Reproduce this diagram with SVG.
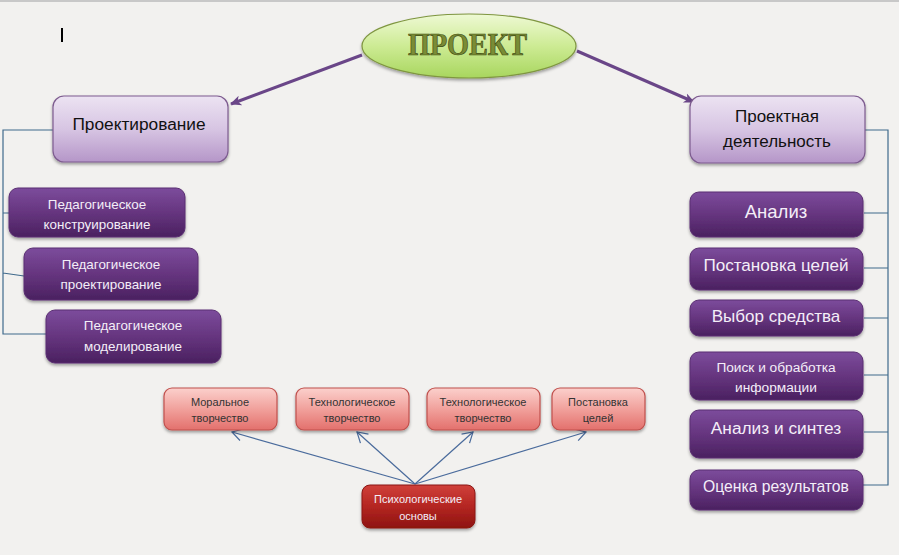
<svg xmlns="http://www.w3.org/2000/svg" width="899" height="555" viewBox="0 0 899 555">
<defs>
<linearGradient id="gLav" x1="0" y1="0" x2="0" y2="1"><stop offset="0" stop-color="#ece3f2"/><stop offset="0.5" stop-color="#d7c5e3"/><stop offset="1" stop-color="#b596c8"/></linearGradient>
<linearGradient id="gPur" x1="0" y1="0" x2="0" y2="1"><stop offset="0" stop-color="#7c4c9c"/><stop offset="0.5" stop-color="#66357f"/><stop offset="1" stop-color="#4a2160"/></linearGradient>
<linearGradient id="gRed" x1="0" y1="0" x2="0" y2="1"><stop offset="0" stop-color="#fbd0cc"/><stop offset="0.5" stop-color="#f1a19c"/><stop offset="1" stop-color="#e3706c"/></linearGradient>
<linearGradient id="gDRed" x1="0" y1="0" x2="0" y2="1"><stop offset="0" stop-color="#d0403a"/><stop offset="0.5" stop-color="#b42622"/><stop offset="1" stop-color="#8e1410"/></linearGradient>
<linearGradient id="gGrn" x1="0" y1="0" x2="0" y2="1"><stop offset="0" stop-color="#eef9d4"/><stop offset="0.5" stop-color="#cdeb94"/><stop offset="1" stop-color="#a8d65e"/></linearGradient>
<filter id="sh" x="-10%" y="-10%" width="120%" height="130%"><feDropShadow dx="0" dy="2" stdDeviation="1.5" flood-color="#000" flood-opacity="0.35"/></filter>
<marker id="aPur" markerWidth="12" markerHeight="12" refX="10" refY="6" orient="auto" markerUnits="userSpaceOnUse"><path d="M0,1 L11,6 L0,11 L3,6 Z" fill="#6a4688"/></marker>
<marker id="aBlue" markerWidth="14" markerHeight="14" refX="12" refY="7" orient="auto" markerUnits="userSpaceOnUse"><path d="M2,1 L12,7 L2,13" fill="none" stroke="#4a6b9c" stroke-width="1.2"/></marker>
<style>
.lav{fill:url(#gLav);stroke:#7d5b8f;stroke-width:1.2;filter:url(#sh)}
.pur{fill:url(#gPur);stroke:#5a2e72;stroke-width:1;filter:url(#sh)}
.red{fill:url(#gRed);stroke:#c0504d;stroke-width:1.2;filter:url(#sh)}
.dred{fill:url(#gDRed);stroke:#8a1612;stroke-width:1;filter:url(#sh)}
.tb{font-family:"Liberation Sans",Arial,sans-serif;fill:#111;text-anchor:middle}
.tw{font-family:"Liberation Sans",Arial,sans-serif;fill:#f4eef8;text-anchor:middle}
.tr{font-family:"Liberation Sans",Arial,sans-serif;fill:#333;text-anchor:middle;font-size:11px}
.br{fill:none;stroke:#3f6a8c;stroke-width:1.2}
.bl{fill:none;stroke:#4a6b9c;stroke-width:1.2;marker-end:url(#aBlue)}
.pa{fill:none;stroke:#6a4688;stroke-width:3;marker-end:url(#aPur)}
</style>
</defs>
<rect width="899" height="555" fill="#f2f1ef"/>
<rect width="899" height="2" fill="#c8c8c8"/>
<rect x="61" y="28" width="2" height="14" fill="#000"/>

<g id="connectors">
<path class="pa" d="M362,55 L231,104"/>
<path class="pa" d="M577,51 L694,102"/>
<path class="br" d="M53,130 H3 V334 H46 M3,213 H10 M3,273 L24,276"/>
<path class="br" d="M864,130 H888 V485 H863 M864,213 H888 M864,268 H888 M864,318 H888 M864,375 H888 M864,432 H888"/>
<path class="bl" d="M415,484 L232,432"/>
<path class="bl" d="M415,484 L357,432"/>
<path class="bl" d="M415,484 L473,432"/>
<path class="bl" d="M415,484 L586,432"/>
</g>

<g id="proekt">
<ellipse cx="469" cy="46" rx="107" ry="32" fill="url(#gGrn)" stroke="#7f9640" stroke-width="1.2" filter="url(#sh)"/>
<text x="467.5" y="55" font-family="Liberation Serif,serif" font-weight="bold" font-size="31" fill="#7a8c35" stroke="#3d4a12" stroke-width="0.7" text-anchor="middle" textLength="119" lengthAdjust="spacingAndGlyphs">ПРОЕКТ</text>
</g>

<g id="proektirovanie">
<rect class="lav" x="53" y="96" width="175" height="66" rx="11"/>
<text class="tb" x="139" y="130" font-size="17.3">Проектирование</text>
</g>
<g id="proektnaya">
<rect class="lav" x="690" y="96" width="175" height="67" rx="11"/>
<text class="tb" x="777" y="122" font-size="17">Проектная</text>
<text class="tb" x="777" y="147" font-size="17">деятельность</text>
</g>

<g id="ped1">
<rect class="pur" x="9" y="188" width="176" height="49" rx="9"/>
<text class="tw" x="97" y="209" font-size="13.4">Педагогическое</text>
<text class="tw" x="97" y="229" font-size="13.4">конструирование</text>
</g>
<g id="ped2">
<rect class="pur" x="24" y="248" width="174" height="52" rx="9"/>
<text class="tw" x="111" y="269" font-size="13.4">Педагогическое</text>
<text class="tw" x="111" y="289" font-size="13.4">проектирование</text>
</g>
<g id="ped3">
<rect class="pur" x="46" y="310" width="175" height="53" rx="9"/>
<text class="tw" x="133" y="330" font-size="13.4">Педагогическое</text>
<text class="tw" x="133" y="351" font-size="13.4">моделирование</text>
</g>

<g id="analiz">
<rect class="pur" x="690" y="192" width="173" height="45" rx="9"/>
<text class="tw" x="776" y="218" font-size="18.5">Анализ</text>
</g>
<g id="postanovka">
<rect class="pur" x="690" y="248" width="173" height="42" rx="9"/>
<text class="tw" x="776" y="271" font-size="17.1">Постановка целей</text>
</g>
<g id="vybor">
<rect class="pur" x="690" y="300" width="173" height="36" rx="9"/>
<text class="tw" x="776" y="322" font-size="17">Выбор средства</text>
</g>
<g id="poisk">
<rect class="pur" x="690" y="352" width="173" height="48" rx="9"/>
<text class="tw" x="776" y="372" font-size="13.7">Поиск и обработка</text>
<text class="tw" x="776" y="392" font-size="13.7">информации</text>
</g>
<g id="sintez">
<rect class="pur" x="690" y="410" width="173" height="48" rx="9"/>
<text class="tw" x="776" y="434" font-size="17.3">Анализ и синтез</text>
</g>
<g id="ocenka">
<rect class="pur" x="690" y="470" width="173" height="40" rx="9"/>
<text class="tw" x="776" y="492" font-size="15.7">Оценка результатов</text>
</g>

<g id="moral">
<rect class="red" x="164" y="388" width="113" height="42" rx="8"/>
<text class="tr" x="220" y="406">Моральное</text>
<text class="tr" x="220" y="422">творчество</text>
</g>
<g id="tech1">
<rect class="red" x="296" y="388" width="113" height="42" rx="8"/>
<text class="tr" x="352" y="406">Технологическое</text>
<text class="tr" x="352" y="422">творчество</text>
</g>
<g id="tech2">
<rect class="red" x="427" y="388" width="113" height="42" rx="8"/>
<text class="tr" x="483" y="406">Технологическое</text>
<text class="tr" x="483" y="422">творчество</text>
</g>
<g id="celi">
<rect class="red" x="552" y="388" width="93" height="42" rx="8"/>
<text class="tr" x="598" y="406">Постановка</text>
<text class="tr" x="598" y="422">целей</text>
</g>
<g id="psych">
<rect class="dred" x="362" y="485" width="113" height="43" rx="8"/>
<text class="tw" x="418" y="503" font-size="11" fill="#f6dcdc">Психологические</text>
<text class="tw" x="418" y="520" font-size="11" fill="#f6dcdc">основы</text>
</g>
</svg>
